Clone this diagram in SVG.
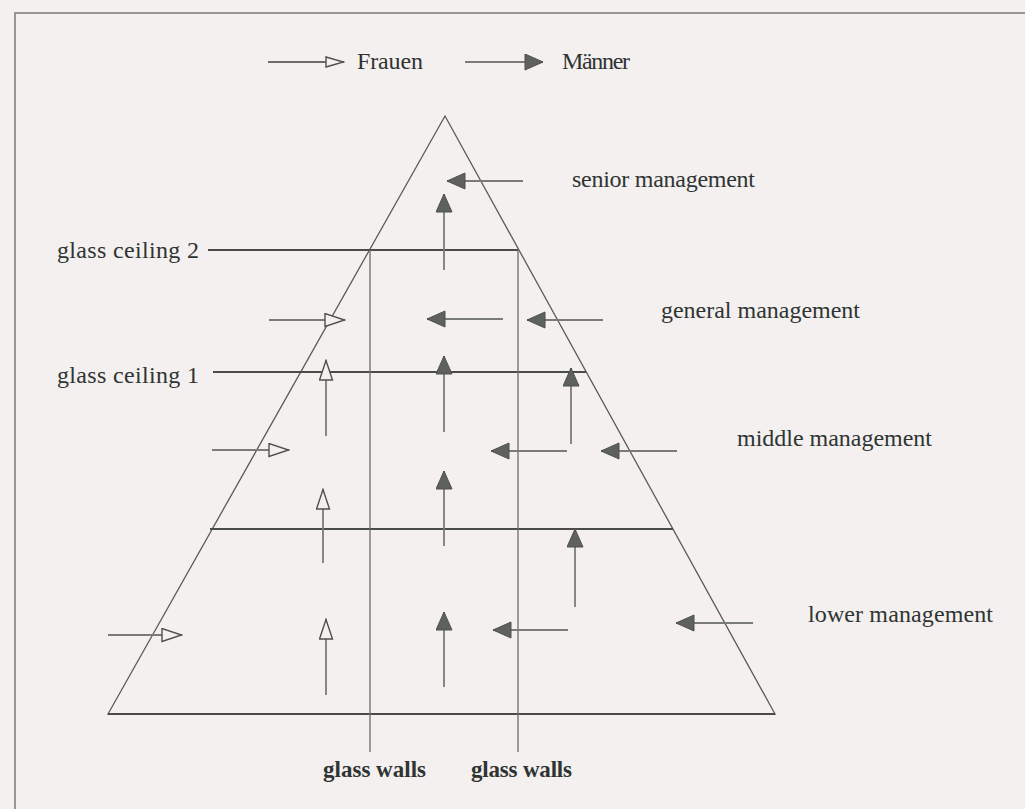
<svg xmlns="http://www.w3.org/2000/svg" width="1025" height="809" viewBox="0 0 1025 809">
<style>
.bg{fill:#f3f0ef}
.frame{fill:none;stroke:#7a7a78;stroke-width:1.5}
.edge{fill:none;stroke:#5a5c5a;stroke-width:1.3}
.ceil{fill:none;stroke:#4a4c4a;stroke-width:2}
.wall{fill:none;stroke:#6a6c6a;stroke-width:1.3}
.m{fill:none;stroke:#7a7c7a;stroke-width:1.8;marker-end:url(#mh)}
.f{fill:none;stroke:#7a7c7a;stroke-width:1.8;marker-end:url(#fh)}
.t{font-family:"Liberation Serif","Times New Roman",serif;font-size:24px;fill:#2f3432}
.b{font-weight:bold;font-size:23px}
</style>
<defs>
<marker id="mh" markerUnits="userSpaceOnUse" viewBox="0 0 20 18" refX="19" refY="8.5" markerWidth="20" markerHeight="18" orient="auto">
<path d="M1,0.5 L19,8.5 L1,16.5 Z" fill="#5e615e" stroke="#4e514e" stroke-width="1"/>
</marker>
<marker id="fh" markerUnits="userSpaceOnUse" viewBox="0 0 22 16" refX="21" refY="7.5" markerWidth="22" markerHeight="16" orient="auto">
<path d="M1,1 L20.5,7.5 L1,14 Z" fill="#f3f0ef" stroke="#4e514e" stroke-width="1.4"/>
</marker>
<marker id="fhs" markerUnits="userSpaceOnUse" viewBox="0 0 20 12" refX="19" refY="6" markerWidth="20" markerHeight="12" orient="auto">
<path d="M1,1 L18.5,6 L1,11 Z" fill="#f3f0ef" stroke="#4e514e" stroke-width="1.4"/>
</marker>
</defs>
<rect class="bg" x="0" y="0" width="1025" height="809"/>
<path class="frame" d="M15,809 L15,13 L1025,13"/>
<g id="legend">
<line x1="268" y1="62" x2="344" y2="62" stroke="#6a6c6a" stroke-width="1.8" marker-end="url(#fhs)"/>
<text class="t" x="357" y="69" textLength="66">Frauen</text>
<line class="m" x1="465" y1="62" x2="543" y2="62"/>
<text class="t" x="562" y="69" textLength="68">Männer</text>
</g>
<g id="pyramid">
<path class="edge" d="M445,116 L108,714 L775,714 Z"/>
<line class="ceil" x1="210" y1="529" x2="673" y2="529"/>
<line class="ceil" x1="108" y1="714" x2="775" y2="714"/>
</g>
<g id="glass-ceiling-2">
<line class="ceil" x1="208" y1="250" x2="518" y2="250"/>
<text class="t" x="57" y="258" textLength="142">glass ceiling 2</text>
</g>
<g id="glass-ceiling-1">
<line class="ceil" x1="213" y1="372" x2="586" y2="372"/>
<text class="t" x="57" y="383" textLength="142">glass ceiling 1</text>
</g>
<g id="glass-walls-left">
<line class="wall" x1="370" y1="250" x2="370" y2="752"/>
<text class="t b" x="323" y="777" textLength="103">glass walls</text>
</g>
<g id="glass-walls-right">
<line class="wall" x1="518" y1="250" x2="518" y2="752"/>
<text class="t b" x="471" y="777" textLength="101">glass walls</text>
</g>
<g id="senior-management"><text class="t" x="572" y="187" textLength="183">senior management</text></g>
<g id="general-management"><text class="t" x="661" y="318" textLength="199">general management</text></g>
<g id="middle-management"><text class="t" x="737" y="446" textLength="195">middle management</text></g>
<g id="lower-management"><text class="t" x="808" y="622" textLength="185">lower management</text></g>
<g id="connectors">
<line class="m" x1="523" y1="181" x2="447" y2="181"/>
<line class="m" x1="444" y1="270" x2="444" y2="194"/>
<line class="m" x1="503" y1="319" x2="427" y2="319"/>
<line class="m" x1="603" y1="320" x2="527" y2="320"/>
<line class="m" x1="444" y1="432" x2="444" y2="356"/>
<line class="m" x1="571" y1="444" x2="571" y2="368"/>
<line class="m" x1="567" y1="451" x2="491" y2="451"/>
<line class="m" x1="677" y1="451" x2="601" y2="451"/>
<line class="m" x1="444" y1="546" x2="444" y2="471"/>
<line class="m" x1="575" y1="607" x2="575" y2="529"/>
<line class="m" x1="444" y1="687" x2="444" y2="612"/>
<line class="m" x1="568" y1="630" x2="493" y2="630"/>
<line class="m" x1="753" y1="623" x2="676" y2="623"/>
<line class="f" x1="269" y1="320" x2="345" y2="320"/>
<line class="f" x1="326" y1="436" x2="326" y2="360"/>
<line class="f" x1="212" y1="450" x2="289" y2="450"/>
<line class="f" x1="323" y1="563" x2="323" y2="489"/>
<line class="f" x1="326" y1="695" x2="326" y2="619"/>
<line class="f" x1="108" y1="635" x2="182" y2="635"/>
</g>
</svg>
